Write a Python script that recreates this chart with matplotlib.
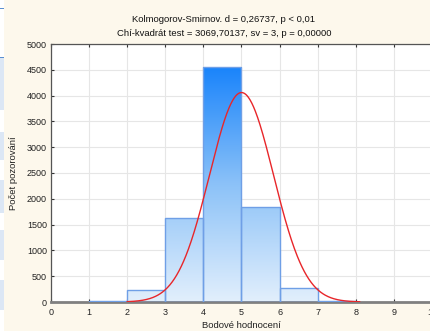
import numpy as np
import matplotlib
matplotlib.use("Agg")
import matplotlib.pyplot as plt
from matplotlib.patches import Rectangle
from matplotlib.colors import LinearSegmentedColormap

plt.rcParams['font.family'] = ['Liberation Sans', 'DejaVu Sans']

# Histogram of scores (bin edges and counts)
bin_left = [1, 2, 3, 4, 5, 6, 7]
counts = [15, 232, 1630, 4550, 1835, 265, 20]
bin_width = 1.0

# Fitted normal distribution
fit_mean = 5.0
fit_sd = 0.84

x_ticks = list(range(0, 11))
y_ticks = list(range(0, 5001, 500))

title_lines = ["Kolmogorov-Smirnov. d = 0,26737, p < 0,01",
               "Chí-kvadrát test = 3069,70137, sv = 3, p = 0,00000"]
x_label = "Bodové hodnocení"
y_label = "Počet pozorování"

W, H = 430, 331
fig = plt.figure(figsize=(W / 100, H / 100), dpi=100)
fig.patch.set_facecolor("#fdf8ec")

ax = fig.add_axes([51 / W, 29 / H, 381 / W, 258 / H])
ax.set_facecolor("white")
ax.set_xlim(0, 10)
ax.set_ylim(0, 5000)

ax.set_xticks(x_ticks)
ax.set_yticks(y_ticks)
ax.grid(True, color="#e6e6e6", lw=0.8)
ax.set_axisbelow(True)
ax.tick_params(axis="both", direction="in", length=2.5, width=0.8,
               colors="#333333", labelsize=6.5, labelcolor="#222222")
ax.tick_params(axis="x", top=True, pad=4)
ax.tick_params(axis="y", pad=3)

for side in ["left", "top", "right"]:
    ax.spines[side].set_color("#555555")
    ax.spines[side].set_linewidth(0.9)
ax.spines["bottom"].set_color("#808080")
ax.spines["bottom"].set_linewidth(2.0)

# Vertical gradient fill shared by all bars
cmap = LinearSegmentedColormap.from_list("bars", ["#e2effc", "#8cc2f8", "#1a84fb"])
ymax = max(counts)
grad = np.linspace(0, 1, 256).reshape(-1, 1)
for left, c in zip(bin_left, counts):
    rect = Rectangle((left, 0), bin_width, c, facecolor="none",
                     edgecolor="#6f9fe6", lw=1.0, zorder=3)
    ax.add_patch(rect)
    im = ax.imshow(grad, cmap=cmap, origin="lower", aspect="auto",
                   extent=[0, 10, 0, ymax], zorder=2, interpolation="bilinear")
    im.set_clip_path(rect)
ax.set_xlim(0, 10)
ax.set_ylim(0, 5000)

# Expected counts from the normal fit
n_total = sum(counts)
xs = np.linspace(2.0, 8.1, 400)
ys = n_total * bin_width / (fit_sd * np.sqrt(2 * np.pi)) * np.exp(-0.5 * ((xs - fit_mean) / fit_sd) ** 2)
ax.plot(xs, ys, color="#e8262a", lw=1.0, zorder=4)

fig.text(224 / W, 1 - 19 / H, title_lines[0], ha="center", va="center", fontsize=6.8, color="#111111")
fig.text(224 / W, 1 - 33 / H, title_lines[1], ha="center", va="center", fontsize=6.8, color="#111111")
fig.text(241 / W, 1 - 326 / H, x_label, ha="center", va="center", fontsize=6.8, color="#222222")
fig.text(14 / W, 1 - 173 / H, y_label, ha="center", va="center", rotation=90, fontsize=6.8, color="#222222")

# Side panel strip on the left edge
strip = fig.add_axes([0, 0, 4 / W, 1])
strip.set_xlim(0, 1)
strip.set_ylim(H, 0)
strip.axis("off")
strip.add_patch(Rectangle((0, 0), 1, H, facecolor="white", edgecolor="none"))
for y0, y1 in [(57, 110), (132, 160), (180, 213), (230, 260), (280, 310)]:
    strip.add_patch(Rectangle((0, y0), 1, y1 - y0, facecolor="#dce7f5", edgecolor="none"))
for yl in [8, 57]:
    strip.add_patch(Rectangle((0, yl), 1, 1.2, facecolor="#5b8fd0", edgecolor="none"))

fig.savefig("out.png", dpi=100, facecolor=fig.get_facecolor())
